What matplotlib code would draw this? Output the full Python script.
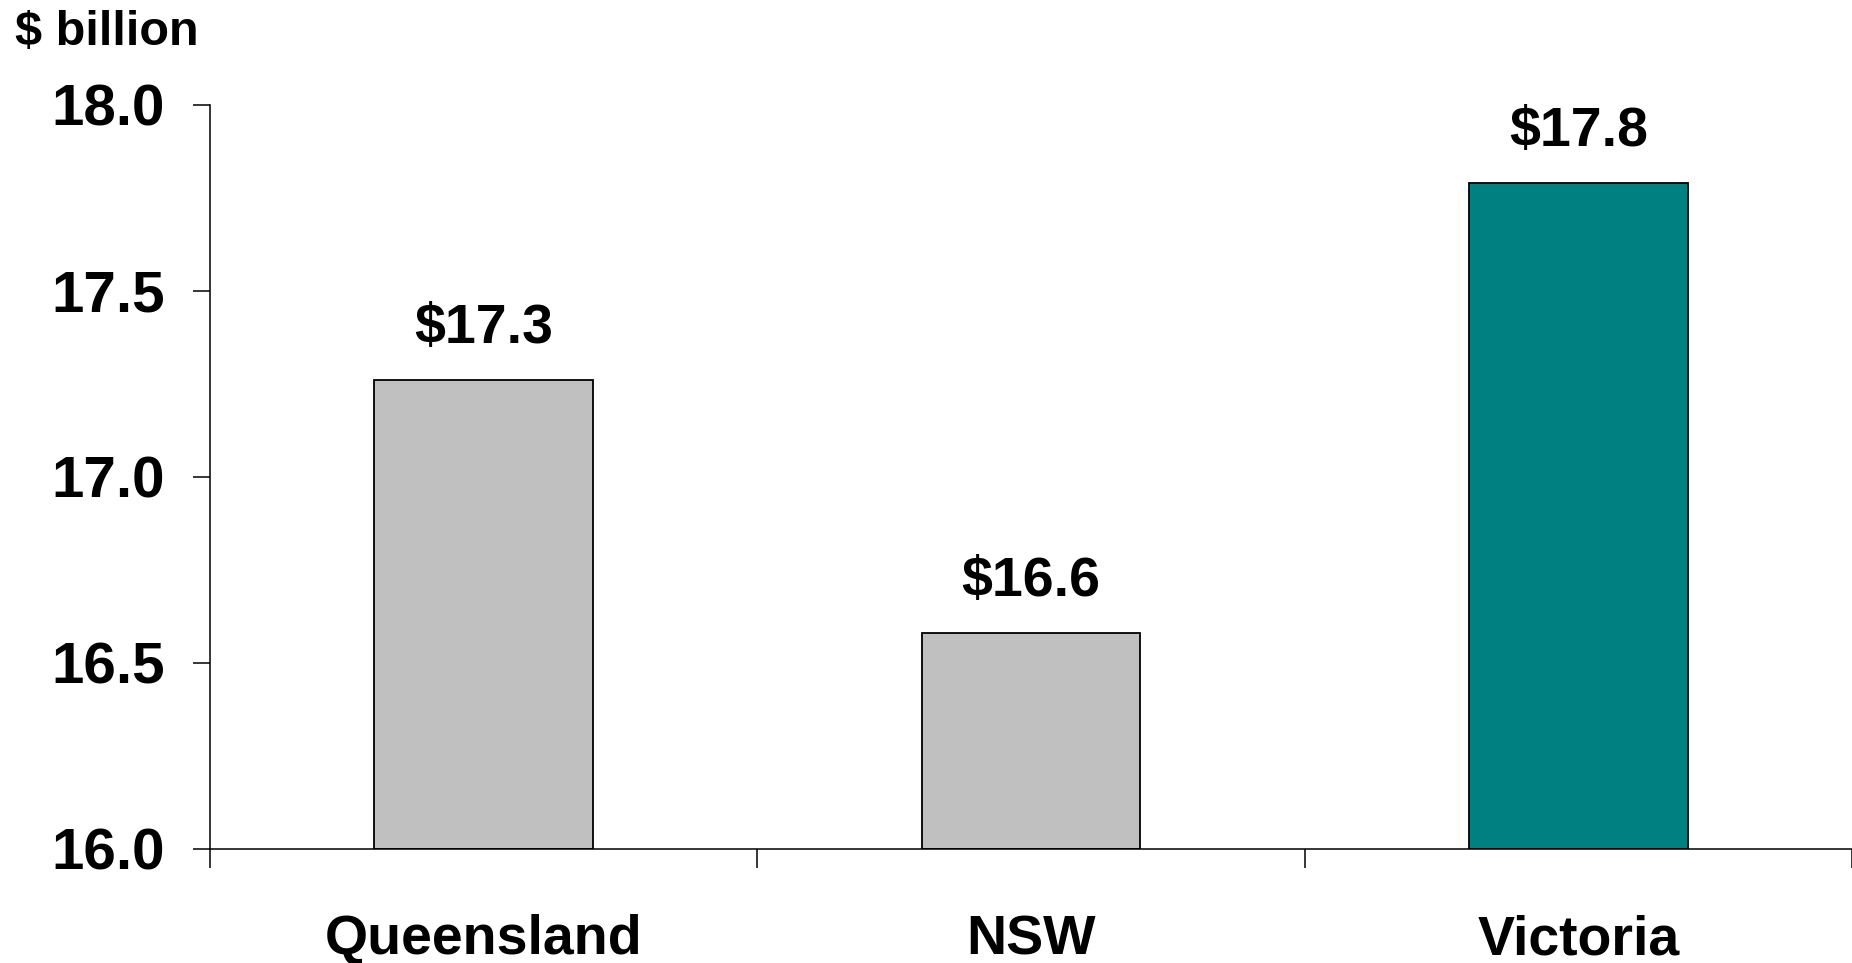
import matplotlib
matplotlib.use("Agg")
import matplotlib.pyplot as plt
from matplotlib.ticker import FixedLocator, NullFormatter

plt.rcParams['font.family'] = ['Liberation Sans', 'DejaVu Sans']
plt.rcParams['font.weight'] = 'bold'

# revenue by state, $ billion
states = ["Queensland", "NSW", "Victoria"]
revenue = [17.26, 16.58, 17.79]
bar_colors = ["#C0C0C0", "#C0C0C0", "#008080"]
yticks = [16.0, 16.5, 17.0, 17.5, 18.0]

fig = plt.figure(figsize=(18.52, 9.63), dpi=100)
ax = fig.add_axes([0.1134, 0.1184, 0.8866, 0.7726])

x = range(len(states))
bars = ax.bar(x, [v - 16.0 for v in revenue], bottom=16.0, width=0.40,
              color=bar_colors, edgecolor="black", linewidth=1.3, zorder=3)

for xi, v in zip(x, revenue):
    ax.annotate(f"${v:.1f}", xy=(xi, v), xytext=(0, 27), textcoords="offset points",
                ha="center", va="baseline", fontsize=40, fontweight="bold")

ax.set_xlim(-0.5, 2.5)
ax.set_ylim(16.0, 18.0)
ax.set_yticks(yticks)
ax.set_yticklabels([f"{t:.1f}" for t in yticks])

# boundaries get the tick marks, category centres get the labels
ax.xaxis.set_major_locator(FixedLocator([-0.5, 0.5, 1.5, 2.5]))
ax.xaxis.set_major_formatter(NullFormatter())
ax.xaxis.set_minor_locator(FixedLocator(list(x)))
ax.set_xticklabels(states, minor=True)

ax.tick_params(axis="x", which="major", direction="out", length=14, width=1.1)
ax.tick_params(axis="x", which="minor", length=0, pad=47, labelsize=40)
ax.tick_params(axis="y", direction="out", length=12.5, width=1.1, pad=20, labelsize=42)

for lbl in ax.get_xticklabels(minor=True) + ax.get_yticklabels():
    lbl.set_fontweight("bold")

ax.spines["top"].set_visible(False)
ax.spines["right"].set_visible(False)
ax.spines["left"].set_linewidth(1.1)
ax.spines["bottom"].set_linewidth(1.1)
ax.spines["bottom"].set_zorder(4)

fig.text(0.008, 0.99, "$ billion", ha="left", va="top", fontsize=35, fontweight="bold")

fig.savefig("out.png", dpi=100)
